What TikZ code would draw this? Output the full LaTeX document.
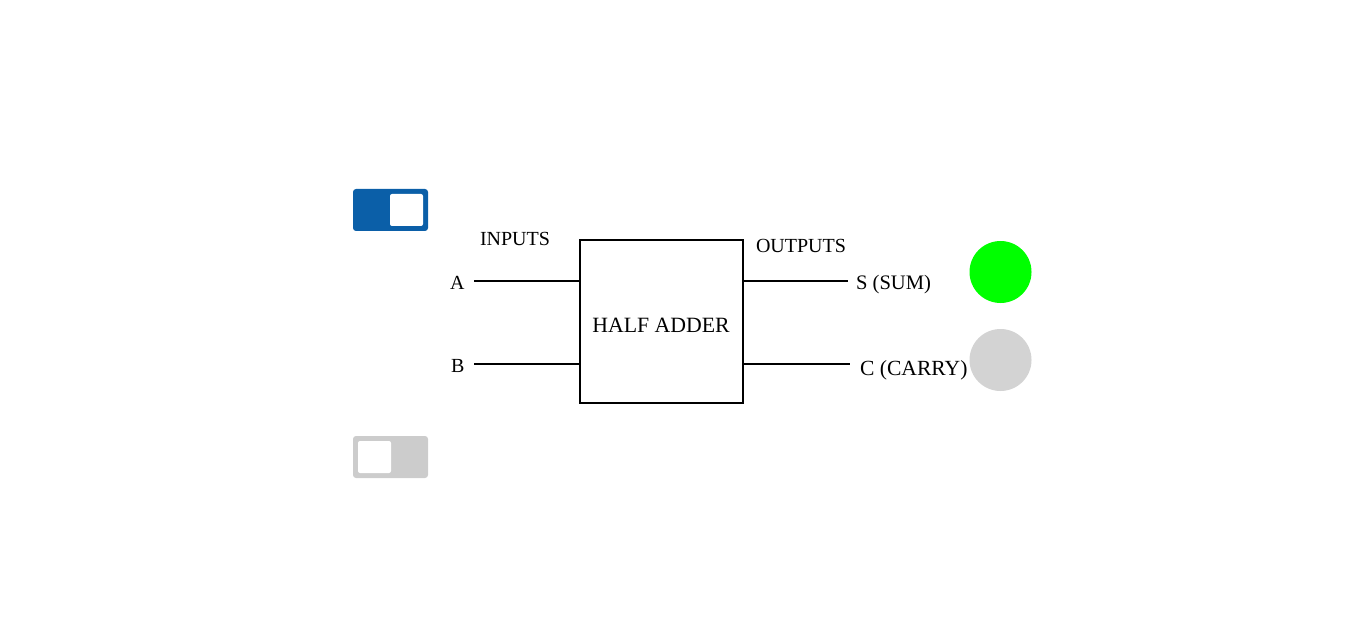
\documentclass[tikz,border=0pt]{standalone}
\usepackage{fontspec}
\setmainfont{Liberation Serif}
\usetikzlibrary{positioning}
\definecolor{toggleblue}{HTML}{0B5FA8}
\definecolor{togglegrey}{HTML}{CCCCCC}
\definecolor{lampgrey}{HTML}{D3D3D3}
\definecolor{lampgreen}{HTML}{00FF00}

\begin{document}
\begin{tikzpicture}[x=1pt, y=-1pt,
  txt/.style = {font=\fontsize{20}{24}\selectfont},
  wire/.style = {line width=1.3pt},
  toggle/.style = {rounded corners=3pt, minimum width=75pt, minimum height=42pt, inner sep=0pt},
  knob/.style = {fill=white, rounded corners=2pt, minimum width=33pt, minimum height=32pt, inner sep=0pt},
  lamp/.style = {circle, minimum size=62pt, inner sep=0pt}]
  \useasboundingbox (0,0) rectangle (1372,620);

  % switches
  \node[toggle, fill=toggleblue] (swa) at (390.5,210) {};
  \node[knob] (knoba) at (406.5,210) {};
  \node[toggle, fill=togglegrey] (swb) at (390.5,457) {};
  \node[knob] (knobb) at (374.5,457) {};

  % block
  \node[draw, wire, minimum width=163pt, minimum height=163pt, inner sep=0pt] (adder) at (661.5,321.5) {};
  \node[font=\fontsize{21.8}{26}\selectfont] (addername) at (661,325) {HALF ADDER};

  \node[txt] (inputs) at (515,239) {INPUTS};
  \node[txt] (outputs) at (801,245.5) {OUTPUTS};

  % inputs
  \coordinate (ain) at (474,281);
  \coordinate (bin) at (474,364);
  \node[txt, left=6pt of ain, yshift=-1.5pt] (a) {A};
  \node[txt, left=6pt of bin, yshift=-1.5pt] (b) {B};
  \draw[wire] (ain) -- (ain -| adder.west);
  \draw[wire] (bin) -- (bin -| adder.west);

  % outputs
  \coordinate (sout) at (848,281);
  \coordinate (cout) at (850,364);
  \node[txt, font=\fontsize{20.6}{24}\selectfont, right=4.5pt of sout, yshift=-3.5pt] (s) {S (SUM)};
  \node[txt, font=\fontsize{21.6}{25}\selectfont, right=6.5pt of cout, yshift=-6.5pt] (c) {C (CARRY)};
  \draw[wire] (sout -| adder.east) -- (sout);
  \draw[wire] (cout -| adder.east) -- (cout);

  % lamps
  \node[lamp, fill=lampgreen] (lamps) at (1000.5,272) {};
  \node[lamp, fill=lampgrey] (lampc) at (1000.5,360) {};
\end{tikzpicture}
\end{document}
